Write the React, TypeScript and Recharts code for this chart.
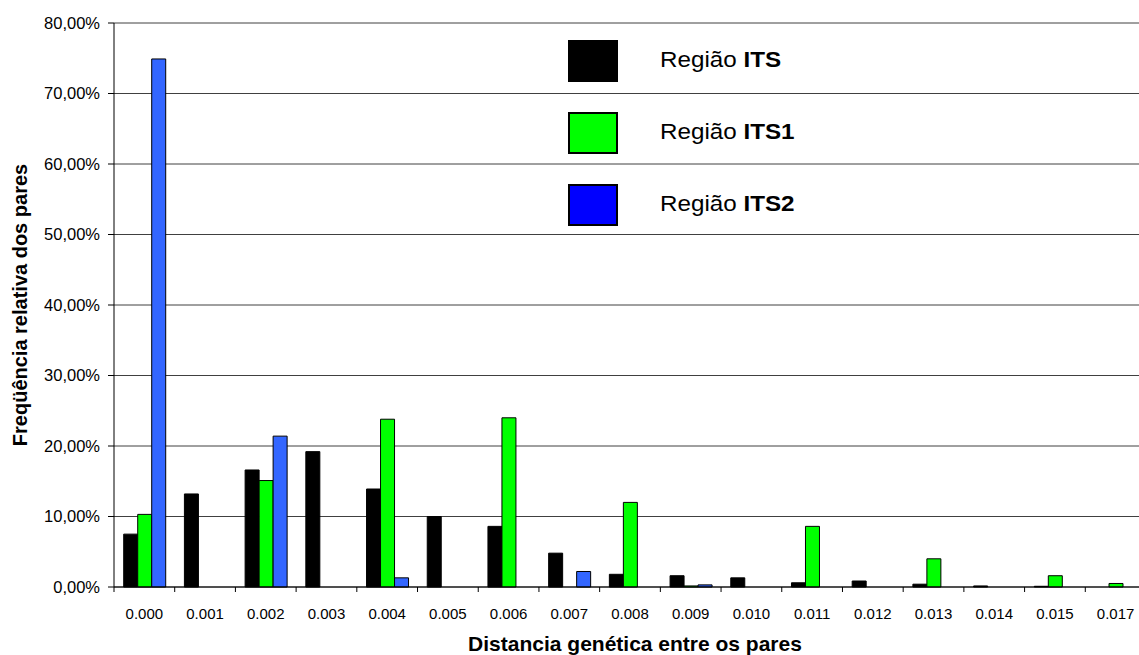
import { BarChart, Bar, XAxis, YAxis, CartesianGrid, Legend } from 'recharts'

const categories = ['0.000', '0.001', '0.002', '0.003', '0.004', '0.005', '0.006', '0.007', '0.008',
  '0.009', '0.010', '0.011', '0.012', '0.013', '0.014', '0.015', '0.017']
const its = [7.5, 13.2, 16.6, 19.2, 13.9, 10.0, 8.6, 4.8, 1.8, 1.6, 1.3, 0.6, 0.85, 0.4, 0.15, 0.1, 0]
const its1 = [10.3, 0, 15.1, 0, 23.8, 0, 24.0, 0, 12.0, 0.15, 0, 8.6, 0, 4.0, 0, 1.6, 0.5]
const its2 = [74.9, 0, 21.4, 0, 1.3, 0, 0, 2.2, 0, 0.3, 0, 0, 0, 0, 0, 0, 0]
const yTicks = [0, 10, 20, 30, 40, 50, 60, 70, 80]

const legendItems = [
  { name: 'ITS', color: '#000000', border: '#000000' },
  { name: 'ITS1', color: '#00ff00', border: '#000000' },
  { name: 'ITS2', color: '#0000ff', border: '#000000' },
]

const FONT = '"Liberation Sans", Arial, sans-serif'
const W = 1146
const H = 655
const LEFT = 114
const PLOT_W = W - LEFT
const BAND = PLOT_W / categories.length

const data = categories.map((c, i) => ({ cat: c, its: its[i], its1: its1[i], its2: its2[i] }))

const fmtPct = (v: number) => v.toFixed(2).replace('.', ',') + '%'

function XTick(props: any) {
  const { x, y, payload, index } = props
  const left = x - BAND / 2
  return (
    <g>
      <line x1={left} y1={y} x2={left} y2={y + 5} stroke="#000" />
      {index === categories.length - 1 && (
        <line x1={x + BAND / 2} y1={y} x2={x + BAND / 2} y2={y + 5} stroke="#000" />
      )}
      <text x={x} y={y + 32} textAnchor="middle" fontSize={15} fill="#000" fontFamily={FONT}>
        {payload.value}
      </text>
    </g>
  )
}

function LegendBox() {
  return (
    <div style={{ fontFamily: FONT }}>
      {legendItems.map((it) => (
        <div key={it.name} style={{ display: 'flex', alignItems: 'center', height: 72 }}>
          <div style={{ width: 46, height: 38, background: it.color, border: `2px solid ${it.border}` }} />
          <div style={{ marginLeft: 42, fontSize: 22, color: '#000', marginTop: -2,
            transform: 'scaleX(1.1)', transformOrigin: 'left center', whiteSpace: 'nowrap' }}>
            Região <b>{it.name}</b>
          </div>
        </div>
      ))}
    </div>
  )
}

export default function App() {
  return (
    <div style={{ position: 'absolute', left: 0, top: 0, width: 1139, height: H, overflow: 'hidden', background: '#fff' }}>
      <BarChart width={W} height={H} data={data} margin={{ top: 23, right: 0, left: 0, bottom: 0 }}
        barCategoryGap="16%" barGap={0}>
        <CartesianGrid horizontal vertical={false} stroke="#404040" />
        <XAxis dataKey="cat" height={68} axisLine={{ stroke: '#000' }} tickLine={false} tickSize={0}
          tickMargin={0} interval={0} tick={<XTick />}
          label={{
            content: ({ viewBox }: any) => (
              <text x={viewBox.x + viewBox.width / 2 + 5} y={viewBox.y + 64} textAnchor="middle"
                fontSize={21} fontWeight="bold" fontFamily={FONT} fill="#000">
                Distancia genética entre os pares
              </text>
            ),
          }} />
        <YAxis width={LEFT} domain={[0, 80]} ticks={yTicks} interval={0} tickFormatter={fmtPct}
          axisLine={{ stroke: '#000' }} tickLine={{ stroke: '#000' }} tickSize={6} tickMargin={8}
          tick={{ fontSize: 16.5, fill: '#000', fontFamily: FONT }}
          label={{
            content: ({ viewBox }: any) => {
              const cx = viewBox.x + 27
              const cy = viewBox.y + viewBox.height / 2
              return (
                <text x={cx} y={cy} transform={`rotate(-90, ${cx}, ${cy})`} textAnchor="middle"
                  fontSize={20} fontWeight="bold" fontFamily={FONT} fill="#000">
                  Freqüência relativa dos pares
                </text>
              )
            },
          }} />
        <Legend layout="horizontal" verticalAlign="middle" align="center" content={<LegendBox />}
          wrapperStyle={{ left: 568, top: 25, width: 320, height: 216 }} />
        <Bar dataKey="its" name="Região ITS" fill="#000000" stroke="#000" strokeWidth={1} isAnimationActive={false} />
        <Bar dataKey="its1" name="Região ITS1" fill="#00ff00" stroke="#000" strokeWidth={1} isAnimationActive={false} />
        <Bar dataKey="its2" name="Região ITS2" fill="#3366ff" stroke="#000" strokeWidth={1} isAnimationActive={false} />
      </BarChart>
    </div>
  )
}
